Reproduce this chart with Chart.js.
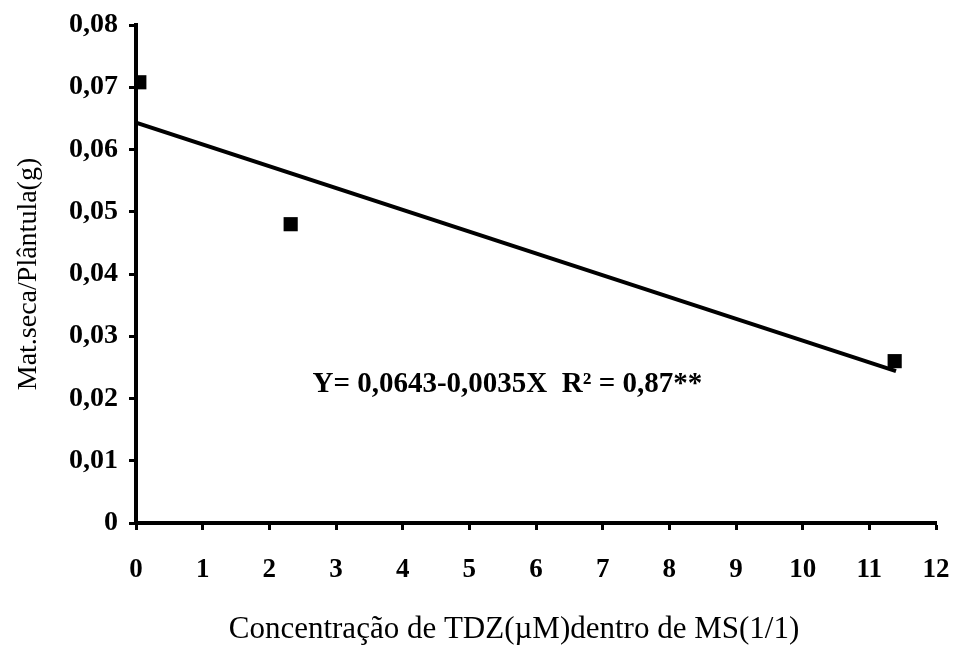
<!DOCTYPE html>
<html>
<head>
<meta charset="utf-8">
<script src="https://cdn.jsdelivr.net/npm/chart.js@4"></script>
<style>
  html, body { margin: 0; padding: 0; background: #fff; }
  #wrap { width: 953px; height: 648px; }
</style>
</head>
<body>
<div id="wrap"><canvas id="myChart" width="953" height="648"></canvas></div>
<script>
// observed points
const obsX = [0.05, 2.32, 11.38];
const obsY = [0.0708, 0.048, 0.026];

// fitted line ends
const fitX = [0, 11.4];
const fitY = [0.0643, 0.0244];

const yTickLabels = ['0', '0,01', '0,02', '0,03', '0,04', '0,05', '0,06', '0,07', '0,08'];
const equation = 'Y= 0,0643-0,0035X  R² = 0,87**';
const eqPos = [5.57, 0.0222];
const xTitle = 'Concentração de TDZ(µM)dentro de MS(1/1)';

const serif = '"Liberation Serif", "Times New Roman", serif';

// equation and x title, placed like the original
const extraText = {
    id: 'extraText',
    afterDatasetsDraw(chart) {
        const c = chart.ctx;
        const x = chart.scales.x.getPixelForValue(eqPos[0]);
        const y = chart.scales.y.getPixelForValue(eqPos[1]);
        c.save();
        c.fillStyle = '#000';
        c.textAlign = 'center';
        c.textBaseline = 'middle';
        c.font = 'bold 29px ' + serif;
        c.fillText(equation, x, y);
        c.font = '31px ' + serif;
        c.fillText(xTitle, 514, 630);
        c.restore();
    }
};

const ctx = document.getElementById('myChart').getContext('2d');
const myChart = new Chart(ctx, {
    type: 'scatter',
    data: {
        datasets: [{
            label: 'fit',
            type: 'line',
            data: fitX.map((x, i) => ({ x: x, y: fitY[i] })),
            borderColor: '#000',
            borderWidth: 4,
            pointRadius: 0,
            fill: false
        }, {
            label: 'obs',
            data: obsX.map((x, i) => ({ x: x, y: obsY[i] })),
            pointStyle: 'rect',
            pointRadius: 10,
            backgroundColor: '#000',
            borderColor: '#000',
            borderWidth: 0
        }]
    },
    options: {
        responsive: false,
        animation: false,
        events: [],
        layout: { padding: { top: 25, right: 17, bottom: 4, left: 0 } },
        plugins: {
            legend: { display: false },
            tooltip: { enabled: false }
        },
        scales: {
            x: {
                type: 'linear',
                min: 0,
                max: 12,
                ticks: {
                    stepSize: 1,
                    color: '#000',
                    font: { family: serif, size: 27, weight: 'bold' },
                    padding: 24,
                    maxRotation: 0
                },
                grid: {
                    drawOnChartArea: false,
                    tickLength: 7,
                    tickWidth: 3,
                    tickColor: '#000'
                },
                border: { color: '#000', width: 4 },
                afterFit(scale) {
                    scale.height = 121;
                    scale.paddingRight = 0;
                    scale.paddingLeft = 0;
                }
            },
            y: {
                min: 0,
                max: 0.08,
                ticks: {
                    stepSize: 0.01,
                    color: '#000',
                    font: { family: serif, size: 28, weight: 'bold' },
                    padding: 11,
                    callback: (v, i) => yTickLabels[i]
                },
                grid: {
                    drawOnChartArea: false,
                    tickLength: 7,
                    tickWidth: 3,
                    tickColor: '#000'
                },
                border: { color: '#000', width: 4 },
                title: {
                    display: true,
                    text: 'Mat.seca/Plântula(g)',
                    color: '#000',
                    font: { family: serif, size: 28 },
                    padding: { top: 12, bottom: 0 }
                },
                afterFit(scale) {
                    scale.width = 136;
                    scale.paddingTop = 0;
                    scale.paddingBottom = 0;
                }
            }
        }
    },
    plugins: [extraText]
});
</script>
</body>
</html>
